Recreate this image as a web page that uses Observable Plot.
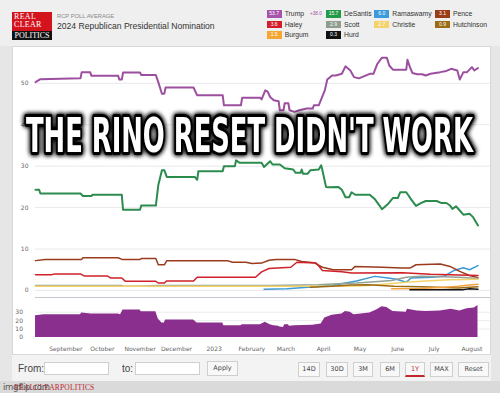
<!DOCTYPE html>
<html><head><meta charset="utf-8">
<script src="https://cdn.jsdelivr.net/npm/d3@7"></script>
<script src="https://cdn.jsdelivr.net/npm/@observablehq/plot@0.6"></script>
<style>
html,body{margin:0;padding:0}
body{width:500px;height:393px;overflow:hidden;background:#e6e6e6;position:relative;font-family:"Liberation Sans",Arial,sans-serif}
.abs{position:absolute}
#header{left:0;top:0;width:500px;height:46px;background:#efefef}
#logo{left:12px;top:12px;width:40px;height:28px;background:#d3141d;overflow:hidden;font-family:"Liberation Serif",serif;color:#fff;font-size:8px;line-height:8px;letter-spacing:0.3px}
#logo .l1{position:absolute;left:2px;top:1px}
#logo .l2{position:absolute;left:2px;top:9px}
#logo .l3{position:absolute;left:0;top:19px;width:40px;height:9px;background:#111;text-align:center;font-size:8px;line-height:9px;letter-spacing:0}
#sub{left:57px;top:12.5px;font-size:5.8px;color:#8a8a8a}
#title{left:57px;top:20.5px;font-size:8.6px;color:#333}
.lg{position:absolute;height:8px;font-size:6.8px;line-height:7.5px;color:#333;white-space:nowrap}
.lg .box{display:inline-block;width:15px;height:7.5px;color:#fff;font-size:5px;line-height:7.5px;text-align:center;vertical-align:top;margin-right:3px}
.lg .spr{font-size:4.6px;color:#9c4f9f;margin-left:6px;vertical-align:top}
#panel{left:12px;top:46px;width:479px;height:309px;background:#fff;border:1px solid #d8d8d8;box-sizing:border-box}
#controls{left:12px;top:355px;width:479px;height:26px;background:#f3f3f3}
.ctl{position:absolute;font-size:10px;color:#444}
.inp{position:absolute;height:11px;background:#fff;border:1px solid #cfcfcf}
.btn{position:absolute;height:15px;background:#f8f8f8;border:1px solid #cfcfcf;box-sizing:border-box;font-size:6.5px;line-height:13px;text-align:center;color:#444;font-family:"DejaVu Sans",sans-serif}
.btn.sel{color:#c0282d;border-bottom:2px solid #c0282d}
#foot{left:0;top:381px;width:500px;height:12px;background:#dadada}
#plots svg{position:absolute;left:0;top:0}
</style></head><body>
<div id="header" class="abs"></div>
<div id="logo" class="abs"><span class="l1">REAL</span><span class="l2">CLEAR</span><span class="l3">POLITICS</span></div>
<div id="sub" class="abs">RCP POLL AVERAGE</div>
<div id="title" class="abs">2024 Republican Presidential Nomination</div>
<div id="legend"></div>
<div id="panel" class="abs"></div>
<div id="controls" class="abs"></div>
<div id="foot" class="abs"></div>
<div id="plots"></div>
<svg id="memeSvg" class="abs" style="left:0;top:0;pointer-events:none" width="500" height="393">
  <defs><filter id="glow" x="-5%" y="-30%" width="110%" height="160%"><feGaussianBlur in="SourceAlpha" stdDeviation="2.4" result="b"/><feMerge><feMergeNode in="b"/><feMergeNode in="b"/><feMergeNode in="SourceGraphic"/></feMerge></filter></defs>
  <g filter="url(#glow)"><text id="meme" x="0" y="0" font-family="DejaVu Sans Condensed, DejaVu Sans" font-stretch="condensed" font-weight="bold" font-size="48" fill="#fff" stroke="#000" stroke-width="6" stroke-linejoin="round" paint-order="stroke">THE RINO RESET DIDN'T WORK</text></g>
</svg>
<script>
// ---------- DATA ----------
const candidates = ["Trump","DeSantis","Ramaswamy","Pence","Haley","Scott","Christie","Hutchinson","Burgum","Hurd"];
const lineColors = ["#9c4f9f","#2b8c4e","#3d9ad6","#9b3b1d","#d0202a","#90a196","#f3d36a","#9a6a14","#f2a23b","#111111"];
const boxColors  = ["#a653ac","#229a47","#3d9bdc","#9b3d17","#d21f2b","#8f9d8f","#f5d26c","#9b6c15","#f5a733","#111111"];
const latestValues = ["53.7","15.7","6.0","3.1","3.6","2.9","2.7","0.9","1.5","0.3"];
const trumpSpread = "+38.0";

const trump = [["2022-08-07",50.3],["2022-08-11",51.0],["2022-09-13",51.2],["2022-09-14",52.7],["2022-09-21",52.7],["2022-09-22",51.8],["2022-10-14",51.8],["2022-10-15",50.9],["2022-10-17",50.9],["2022-10-18",52.6],["2022-11-01",52.6],["2022-11-02",52.0],["2022-11-14",52.0],["2022-11-16",50.3],["2022-11-19",47.5],["2022-11-21",47.5],["2022-11-22",49.0],["2022-12-15",49.0],["2022-12-18",47.1],["2023-01-08",47.1],["2023-01-09",44.7],["2023-01-23",44.7],["2023-01-24",46.5],["2023-02-08",46.5],["2023-02-09",46.1],["2023-02-12",48.3],["2023-02-14",48.0],["2023-02-16",46.7],["2023-02-19",45.9],["2023-02-23",45.7],["2023-02-24",43.5],["2023-02-27",43.5],["2023-02-28",45.2],["2023-03-03",45.2],["2023-03-04",43.5],["2023-03-08",43.1],["2023-03-12",43.5],["2023-03-18",43.9],["2023-03-23",43.9],["2023-03-24",44.7],["2023-03-28",44.7],["2023-03-30",46.1],["2023-04-02",48.3],["2023-04-04",50.9],["2023-04-08",51.9],["2023-04-11",51.9],["2023-04-16",52.3],["2023-04-19",54.1],["2023-04-23",53.1],["2023-04-26",51.5],["2023-04-30",51.2],["2023-05-09",52.3],["2023-05-12",52.3],["2023-05-15",54.6],["2023-05-19",56.2],["2023-05-23",56.2],["2023-05-25",54.3],["2023-05-28",53.3],["2023-06-08",53.3],["2023-06-09",55.7],["2023-06-11",53.9],["2023-06-13",52.5],["2023-06-17",52.2],["2023-06-21",52.2],["2023-06-24",51.9],["2023-06-28",52.3],["2023-07-06",52.7],["2023-07-11",53.0],["2023-07-15",53.5],["2023-07-20",53.1],["2023-07-22",50.9],["2023-07-25",52.7],["2023-07-28",52.7],["2023-08-01",53.9],["2023-08-03",53.1],["2023-08-06",53.7]];
const desantis = [["2022-08-07",24.3],["2022-08-10",24.3],["2022-08-11",23.4],["2022-09-13",23.4],["2022-09-15",22.8],["2022-09-22",22.8],["2022-09-23",23.1],["2022-10-17",23.1],["2022-10-18",19.5],["2022-11-01",19.5],["2022-11-02",20.5],["2022-11-14",20.5],["2022-11-16",25.4],["2022-11-19",29.0],["2022-11-21",29.0],["2022-11-23",27.4],["2022-12-16",27.4],["2022-12-18",26.7],["2022-12-19",28.8],["2023-01-08",28.8],["2023-01-09",30.0],["2023-01-18",30.0],["2023-01-19",31.4],["2023-01-22",30.8],["2023-02-09",30.8],["2023-02-11",29.8],["2023-02-16",31.2],["2023-02-18",30.4],["2023-02-24",30.4],["2023-02-28",29.5],["2023-03-07",29.2],["2023-03-09",28.4],["2023-03-13",28.4],["2023-03-14",29.2],["2023-03-15",28.2],["2023-03-19",28.2],["2023-03-21",29.0],["2023-03-28",29.2],["2023-03-30",30.2],["2023-03-31",29.0],["2023-04-03",25.0],["2023-04-05",24.9],["2023-04-13",25.0],["2023-04-16",24.3],["2023-04-19",22.5],["2023-04-22",22.5],["2023-04-24",23.7],["2023-04-27",23.1],["2023-05-09",23.1],["2023-05-13",22.1],["2023-05-17",20.5],["2023-05-19",19.6],["2023-05-24",20.9],["2023-05-28",22.3],["2023-06-01",22.3],["2023-06-03",23.7],["2023-06-08",23.7],["2023-06-12",22.0],["2023-06-16",20.4],["2023-06-20",21.1],["2023-06-24",21.6],["2023-07-03",21.6],["2023-07-07",21.1],["2023-07-11",21.1],["2023-07-14",20.5],["2023-07-16",19.7],["2023-07-19",20.3],["2023-07-22",19.3],["2023-07-25",18.3],["2023-07-30",18.5],["2023-08-02",17.7],["2023-08-06",15.7]];
const ramaswamy = [["2023-02-11",0.3],["2023-03-02",0.4],["2023-03-19",0.8],["2023-04-08",1.2],["2023-04-19",1.8],["2023-04-28",2.3],["2023-05-13",3.4],["2023-05-24",3.0],["2023-05-31",2.7],["2023-06-08",2.0],["2023-06-12",3.0],["2023-06-29",3.2],["2023-07-09",3.4],["2023-07-17",4.8],["2023-07-25",5.5],["2023-07-30",5.0],["2023-08-06",6.0]];
const pence = [["2022-08-07",7.2],["2022-08-15",7.5],["2022-09-14",7.5],["2022-09-15",7.9],["2022-10-14",7.9],["2022-10-17",7.5],["2022-11-01",7.5],["2022-11-02",7.7],["2022-11-14",7.7],["2022-11-16",6.2],["2022-11-21",6.2],["2022-11-23",7.2],["2023-01-12",7.2],["2023-01-16",6.8],["2023-01-27",6.8],["2023-02-01",6.5],["2023-02-09",6.6],["2023-02-15",7.3],["2023-02-21",7.5],["2023-03-08",7.5],["2023-03-14",7.0],["2023-03-24",6.7],["2023-03-31",5.6],["2023-04-09",5.0],["2023-04-24",5.0],["2023-04-27",5.8],["2023-05-19",5.6],["2023-06-05",5.4],["2023-06-11",5.4],["2023-06-16",6.2],["2023-07-06",6.4],["2023-07-14",5.8],["2023-07-22",4.6],["2023-07-30",3.6],["2023-08-06",3.1]];
const haley = [["2022-08-07",3.8],["2022-08-20",3.8],["2022-08-23",4.0],["2022-09-13",4.0],["2022-09-16",3.5],["2022-10-05",3.5],["2022-10-08",3.0],["2022-10-17",3.0],["2022-10-20",2.2],["2022-11-14",2.2],["2022-11-16",1.8],["2022-11-21",1.8],["2022-11-23",2.3],["2022-12-15",2.3],["2022-12-18",3.2],["2023-02-04",3.2],["2023-02-09",4.5],["2023-02-15",5.3],["2023-03-05",5.6],["2023-03-10",6.8],["2023-03-26",6.6],["2023-03-31",4.8],["2023-04-16",4.5],["2023-04-24",4.2],["2023-06-05",4.3],["2023-06-28",3.9],["2023-08-06",3.6]];
const scott = [["2022-08-07",1.2],["2022-10-17",1.2],["2022-10-18",1.0],["2022-11-01",1.0],["2022-11-16",1.2],["2023-02-16",1.2],["2023-03-28",1.4],["2023-04-13",1.6],["2023-04-28",1.8],["2023-05-13",2.1],["2023-05-27",2.4],["2023-06-08",3.2],["2023-06-20",3.4],["2023-07-09",3.3],["2023-07-25",3.1],["2023-08-06",2.9]];
const christie = [["2022-08-07",1.0],["2023-03-19",1.0],["2023-04-19",1.0],["2023-05-08",1.2],["2023-05-25",1.6],["2023-06-08",2.0],["2023-06-24",2.3],["2023-07-14",2.6],["2023-08-06",2.7]];
const hutchinson = [["2023-03-21",0.8],["2023-04-08",1.0],["2023-04-23",1.3],["2023-05-08",1.4],["2023-05-29",1.0],["2023-06-20",0.9],["2023-07-09",0.7],["2023-07-21",0.6],["2023-08-06",0.9]];
const burgum = [["2023-05-27",0.4],["2023-06-20",0.5],["2023-07-09",0.8],["2023-07-21",1.0],["2023-07-30",1.3],["2023-08-06",1.5]];
const hurd = [["2023-06-11",0.2],["2023-07-14",0.2],["2023-07-25",0.2],["2023-07-30",0.4],["2023-08-06",0.3]];
// Trump lead (navigator)
const trumpLead = [["2022-08-07",25.9],["2022-08-14",27.0],["2022-09-13",27.0],["2022-09-14",29.0],["2022-09-22",27.9],["2022-10-14",27.9],["2022-10-16",27.0],["2022-10-18",32.6],["2022-11-01",32.6],["2022-11-02",30.6],["2022-11-14",30.6],["2022-11-16",22.0],["2022-11-19",17.3],["2022-11-21",17.3],["2022-11-22",20.8],["2022-12-15",20.8],["2022-12-18",17.3],["2023-01-08",17.3],["2023-01-09",13.8],["2023-01-23",13.8],["2023-01-24",15.0],["2023-02-08",15.0],["2023-02-12",18.0],["2023-02-16",15.0],["2023-02-19",14.0],["2023-02-23",13.5],["2023-02-24",12.5],["2023-02-27",12.0],["2023-02-28",15.0],["2023-03-03",15.0],["2023-03-04",13.5],["2023-03-08",14.0],["2023-03-23",14.5],["2023-03-30",16.0],["2023-04-02",23.0],["2023-04-08",26.5],["2023-04-16",28.0],["2023-04-19",31.0],["2023-04-23",30.0],["2023-04-26",27.0],["2023-04-30",27.5],["2023-05-09",29.0],["2023-05-15",33.0],["2023-05-19",36.5],["2023-05-23",35.5],["2023-05-28",31.0],["2023-06-08",30.0],["2023-06-09",33.5],["2023-06-17",31.5],["2023-06-24",31.0],["2023-07-06",31.5],["2023-07-15",33.5],["2023-07-22",31.5],["2023-07-28",34.0],["2023-08-03",35.0],["2023-08-06",38.0]];

const yTicks = [0,10,20,30,40,50];
const navTicks = [0,10,20,30];
const monthTickDates = ["2022-09-01","2022-10-01","2022-11-01","2022-12-01","2023-01-01","2023-02-01","2023-03-01","2023-04-01","2023-05-01","2023-06-01","2023-07-01","2023-08-01"];
const monthTickLabels = ["September","October","November","December","2023","February","March","April","May","June","July","August"];
const rangeButtons = ["14D","30D","3M","6M","1Y","MAX","Reset"];
const selectedRange = "1Y";

// ---------- BUILD ----------
const seriesByName = {Trump:trump, DeSantis:desantis, Ramaswamy:ramaswamy, Pence:pence, Haley:haley, Scott:scott, Christie:christie, Hutchinson:hutchinson, Burgum:burgum, Hurd:hurd};
const rows = candidates.flatMap(name => seriesByName[name].map(([d,v]) => ({name, date:new Date(d), value:v})));
const majorRows = rows.filter(r => r.name === "Trump" || r.name === "DeSantis");
const minorRows = rows.filter(r => r.name !== "Trump" && r.name !== "DeSantis");
const leadRows = trumpLead.map(([d,v]) => ({date:new Date(d), value:v}));
const tickDates = monthTickDates.map(d => new Date(d));
const labelMap = new Map(tickDates.map((d,i) => [+d, monthTickLabels[i]]));
const xDomain = [new Date("2022-08-07"), new Date("2023-08-16T07:00:00Z")];

// legend
const colX = [266.7, 326, 374.3, 435];
const rowY = [10, 20.8, 31.2];
const legend = document.getElementById("legend");
candidates.forEach((name, i) => {
  const el = document.createElement("div");
  el.className = "lg";
  el.style.left = colX[i % 4] + "px";
  el.style.top = rowY[Math.floor(i / 4)] + "px";
  el.innerHTML = `<span class="box" style="background:${boxColors[i]}">${latestValues[i]}</span>${name}` + (i === 0 ? `<span class="spr">${trumpSpread}</span>` : "");
  legend.appendChild(el);
});

// controls
const controls = document.getElementById("controls");
controls.innerHTML = `<span class="ctl" style="left:6px;top:8px">From:</span><span class="inp" style="left:32px;top:7px;width:63px"></span><span class="ctl" style="left:110px;top:8px">to:</span><span class="inp" style="left:123px;top:7px;width:63px"></span><span class="btn" style="left:195px;top:6px;width:31px">Apply</span>`;
const btnX = [286, 314, 341, 368, 393, 418, 446];
const btnW = [22, 22, 20, 20, 20, 23, 31];
rangeButtons.forEach((b, i) => {
  const el = document.createElement("span");
  el.className = "btn" + (b === selectedRange ? " sel" : "");
  el.style.left = btnX[i] + "px"; el.style.top = "7px"; el.style.width = btnW[i] + "px";
  el.textContent = b;
  controls.appendChild(el);
});
document.getElementById("foot").innerHTML = `<span class="abs" style="left:14px;top:2px;font-family:'Liberation Serif',serif;font-size:7.5px;color:#c0282d;letter-spacing:0.2px">REALCLEARPOLITICS</span><span class="abs" style="left:3px;top:1px;font-size:8.5px;color:#555;font-family:'DejaVu Sans',sans-serif;letter-spacing:-0.3px">imgflip.com</span>`;

// main chart
const mainPlot = Plot.plot({
  width: 500, height: 393,
  marginLeft: 35, marginRight: 10, marginTop: 53, marginBottom: 96,
  style: {background: "transparent", color: "#666", fontFamily: "DejaVu Sans, sans-serif", fontSize: "6px", overflow: "visible"},
  x: {type: "utc", domain: xDomain, axis: null},
  y: {domain: [-1.7, 57.2], axis: null},
  color: {domain: candidates, range: lineColors},
  marks: [
    Plot.gridY(yTicks, {stroke: "#e9e9ee", strokeOpacity: 1}),
    Plot.axisY(yTicks, {tickSize: 0, tickPadding: 7, label: null, tickFormat: d => String(d)}),
    Plot.ruleY([-1.7], {stroke: "#c8c8d0"}),
    Plot.line(minorRows, {x: "date", y: "value", z: "name", stroke: "name", strokeWidth: 1.5}),
    Plot.line(majorRows, {x: "date", y: "value", z: "name", stroke: "name", strokeWidth: 2})
  ]
});
// navigator
const navPlot = Plot.plot({
  width: 500, height: 393,
  marginLeft: 35, marginRight: 10, marginTop: 303.3, marginBottom: 56,
  style: {background: "transparent", color: "#666", fontFamily: "DejaVu Sans, sans-serif", fontSize: "6px", overflow: "visible"},
  x: {type: "utc", domain: xDomain, axis: null},
  y: {domain: [0, 40], axis: null},
  marks: [
    Plot.gridY(navTicks.slice(1), {stroke: "#ececf0", strokeOpacity: 1}),
    Plot.axisY(navTicks, {tickSize: 0, tickPadding: 12.5, label: null, tickFormat: d => String(d)}),
    Plot.areaY(leadRows, {x: "date", y: "value", fill: "#8b2f8f"}),
    Plot.axisX(tickDates, {tickSize: 0, tickPadding: 9, label: null, tickFormat: d => labelMap.get(+d)})
  ]
});
const plots = document.getElementById("plots");
plots.appendChild(mainPlot);
plots.appendChild(navPlot);

// fit the overlay caption between x=26 and x=473, baseline y=152
const meme = document.getElementById("meme");
const w = meme.getComputedTextLength();
meme.setAttribute("transform", `translate(26,152) scale(${447 / w},1)`);
</script>
</body></html>
